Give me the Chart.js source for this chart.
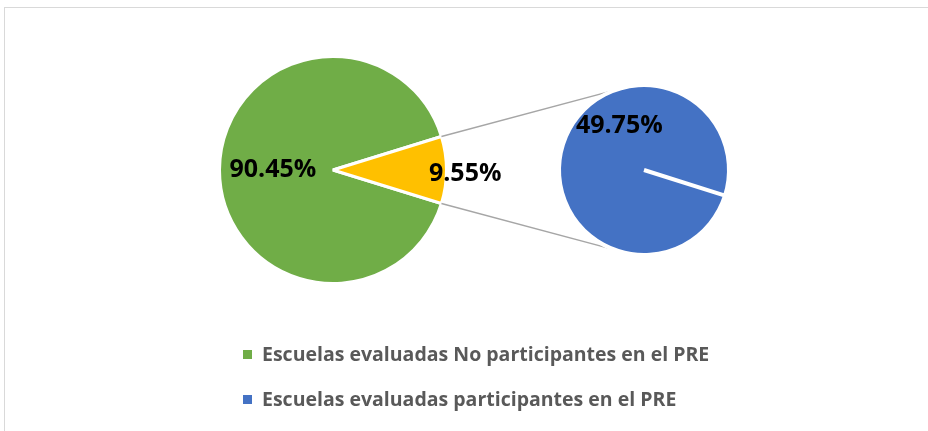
<!DOCTYPE html>
<html lang="es">
<head>
  <meta charset="UTF-8">
  <script src="https://cdn.jsdelivr.net/npm/chart.js@4.4.0/dist/chart.umd.min.js"></script>
  <title>Escuelas evaluadas PRE</title>
  <style>
    body { margin: 0; background: #fff; }
    .wrap { position: relative; width: 928px; height: 431px; overflow: hidden; }
    .frame {
      position: absolute; left: 4px; top: 7px; width: 960px; height: 460px;
      border-top: 1px solid #d9d9d9; border-left: 1px solid #d9d9d9;
    }
    canvas { position: absolute; left: 0; top: 0; }
    .legend-item {
      position: absolute; left: 243px; height: 24px;
      font-family: "Open Sans", "Noto Sans", sans-serif; font-weight: 700;
      font-size: 19.5px; color: #595959; line-height: 24px; white-space: nowrap;
    }
    .legend-item span.box {
      display: inline-block; width: 9px; height: 9px; margin-right: 10px;
      vertical-align: 2px;
    }
  </style>
</head>
<body>
  <div class="wrap">
    <div class="frame"></div>
    <canvas id="mainPie" width="928" height="431"></canvas>
    <canvas id="subPie" width="928" height="431"></canvas>
    <div class="legend-item" style="top:342px"><span class="box" style="background:#70ad47"></span>Escuelas evaluadas No participantes en el PRE</div>
    <div class="legend-item" style="top:387px"><span class="box" style="background:#4472c4"></span>Escuelas evaluadas participantes en el PRE</div>
  </div>

  <script>
    // datos
    const mainLabels = ['Escuelas evaluadas No participantes en el PRE', 'Escuelas evaluadas participantes en el PRE'];
    const mainValues = [90.45, 9.55];
    const subLabels = ['Escuelas evaluadas participantes en el PRE'];
    const subValues = [49.75];

    const green = '#70ad47';
    const yellow = '#ffc000';
    const blue = '#4472c4';

    // etiquetas de porcentaje
    const pctLabels = {
      id: 'pctLabels',
      afterDatasetsDraw(chart, args, opts) {
        const ctx = chart.ctx;
        const meta = chart.getDatasetMeta(0);
        const values = chart.data.datasets[0].data;
        ctx.save();
        ctx.font = 'bold 25px "Open Sans", "Noto Sans", sans-serif';
        ctx.fillStyle = '#000';
        ctx.textAlign = 'center';
        ctx.textBaseline = 'middle';
        meta.data.forEach((arc, i) => {
          const p = arc.getProps(['x', 'y', 'startAngle', 'endAngle', 'outerRadius'], true);
          const place = opts.place[i];
          const ang = place.angle !== undefined ? place.angle * Math.PI / 180 : (p.startAngle + p.endAngle) / 2;
          const r = p.outerRadius * place.r;
          ctx.fillText(values[i].toFixed(2) + '%', p.x + Math.cos(ang) * r, p.y + Math.sin(ang) * r);
        });
        ctx.restore();
      }
    };

    // líneas que unen los dos pasteles
    const connectors = {
      id: 'connectors',
      beforeDatasetsDraw(chart) {
        const main = Chart.getChart('mainPie');
        if (!main) return;
        const slice = main.getDatasetMeta(0).data[1].getProps(['x', 'y', 'startAngle', 'endAngle', 'outerRadius'], true);
        const sub = chart.getDatasetMeta(0).data[0].getProps(['x', 'y', 'outerRadius'], true);
        const ctx = chart.ctx;
        const ends = [[slice.startAngle, -110], [slice.endAngle, 110]];
        ctx.save();
        ctx.strokeStyle = '#a6a6a6';
        ctx.lineWidth = 1.5;
        ends.forEach(([a, b]) => {
          const rb = b * Math.PI / 180;
          ctx.beginPath();
          ctx.moveTo(slice.x + Math.cos(a) * slice.outerRadius, slice.y + Math.sin(a) * slice.outerRadius);
          ctx.lineTo(sub.x + Math.cos(rb) * sub.outerRadius, sub.y + Math.sin(rb) * sub.outerRadius);
          ctx.stroke();
        });
        ctx.restore();
      }
    };

    const common = {
      responsive: false,
      animation: false,
      plugins: { legend: { display: false }, tooltip: { enabled: false } }
    };

    new Chart(document.getElementById('mainPie'), {
      type: 'pie',
      data: {
        labels: mainLabels,
        datasets: [{
          data: mainValues,
          backgroundColor: [green, yellow],
          borderColor: '#fff',
          borderWidth: 3
        }]
      },
      options: {
        ...common,
        rotation: 90 + mainValues[1] * 3.6 / 2,
        layout: { padding: { left: 218, right: 480, top: 55, bottom: 146 } },
        plugins: {
          ...common.plugins,
          pctLabels: { place: [{ r: 0.53 }, { angle: 1.5, r: 1.165 }] }
        }
      },
      plugins: [pctLabels]
    });

    new Chart(document.getElementById('subPie'), {
      type: 'pie',
      data: {
        labels: subLabels,
        datasets: [{
          data: subValues,
          backgroundColor: [blue],
          borderColor: '#fff',
          borderWidth: 4
        }]
      },
      options: {
        ...common,
        rotation: 107.6,
        layout: { padding: { left: 557, right: 197, top: 83, bottom: 174 } },
        plugins: {
          ...common.plugins,
          pctLabels: { place: [{ angle: 240.5, r: 0.59 }] }
        }
      },
      plugins: [pctLabels, connectors]
    });
  </script>
</body>
</html>
